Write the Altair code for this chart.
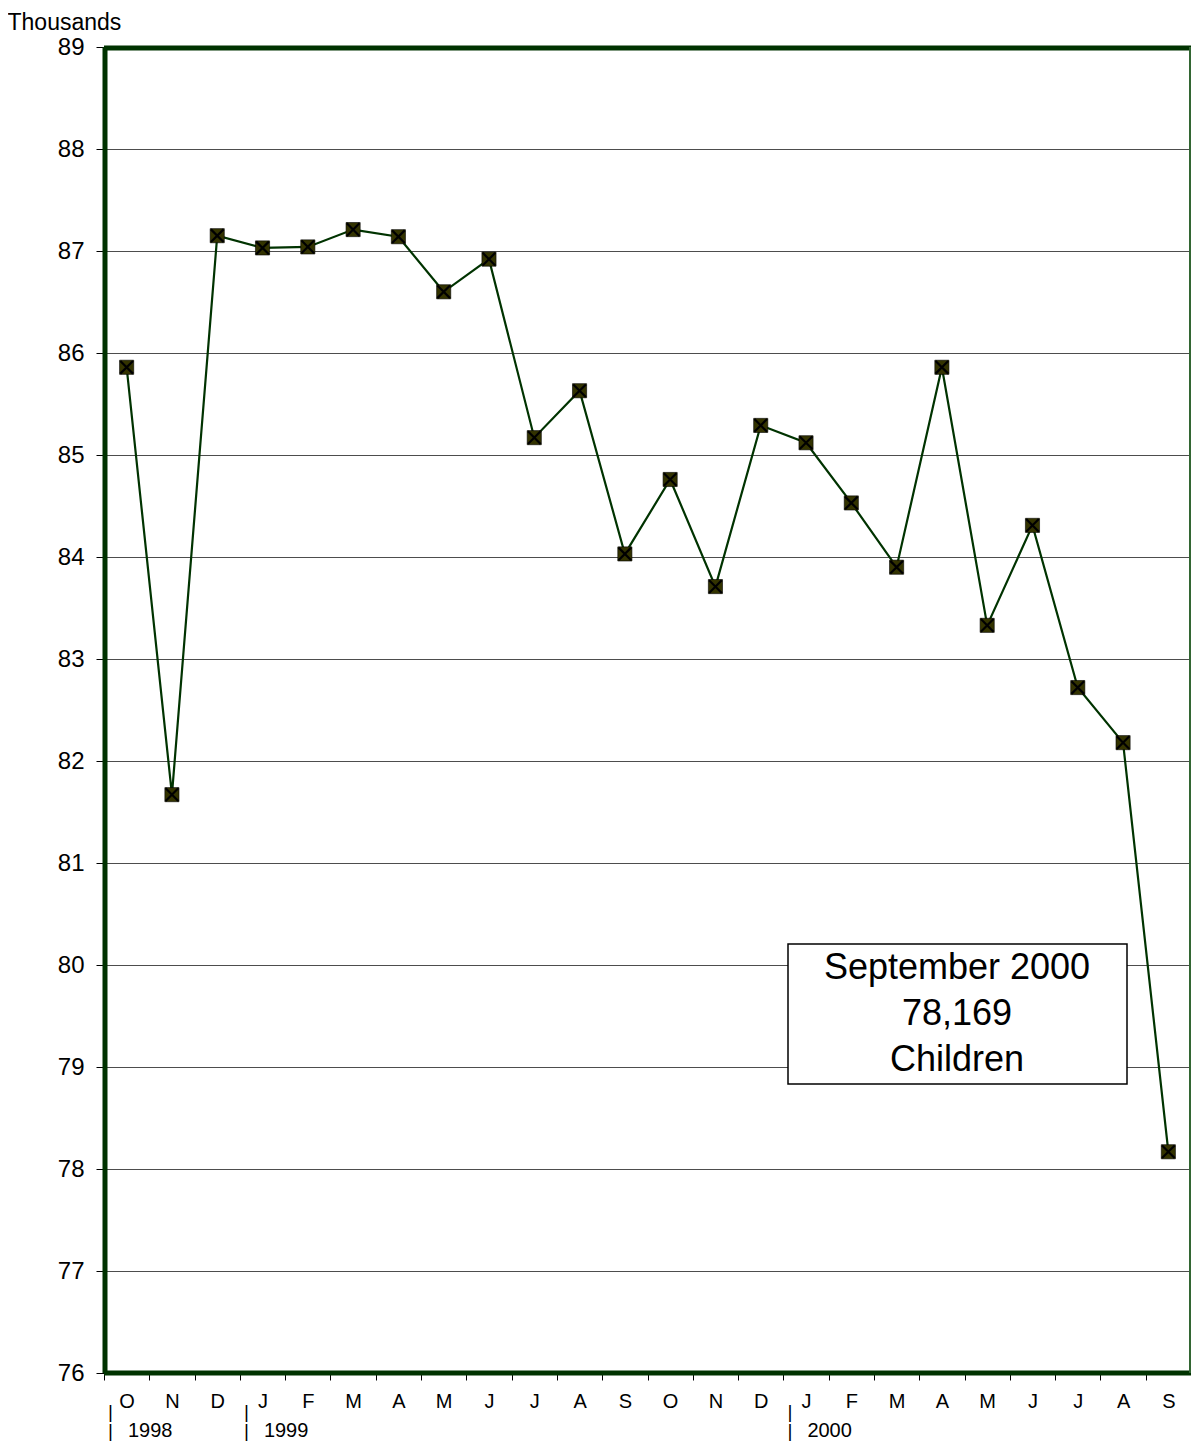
import altair as alt
import pandas as pd

months = ["O", "N", "D", "J", "F", "M", "A", "M", "J", "J", "A", "S",
          "O", "N", "D", "J", "F", "M", "A", "M", "J", "J", "A", "S"]
values = [85.86, 81.67, 87.15, 87.03, 87.04, 87.21, 87.14, 86.60, 86.92, 85.17, 85.63, 84.03,
          84.76, 83.71, 85.29, 85.12, 84.53, 83.90, 85.86, 83.33, 84.31, 82.72, 82.18, 78.169]
year_labels = ["1998", "1999", "2000"]
year_start = [0, 3, 15]
y_ticks = list(range(76, 90))
note_lines = ["September 2000", "78,169", "Children"]

W, H = 1087, 1326
FONT = "Liberation Sans"

df = pd.DataFrame({"idx": list(range(len(months))), "month": months, "value": values})
ydf = pd.DataFrame({"idx": year_start, "year": year_labels})
one = pd.DataFrame({"k": [0]})

label_expr = "[" + ",".join(f"'{m}'" for m in months) + "][datum.value]"

x_axis = alt.Axis(title=None, labelExpr=label_expr, labelAngle=0, tickBand="extent",
                  domain=False, tickSize=7, tickColor="black", tickWidth=1,
                  labelFont=FONT, labelFontSize=20, labelColor="black",
                  labelPadding=11, grid=False)
x_scale = alt.Scale(paddingInner=0, paddingOuter=0)


def make_x(band=None):
    if band is None:
        return alt.X("idx:O", scale=x_scale, axis=x_axis)
    return alt.X("idx:O", scale=x_scale, axis=x_axis, bandPosition=band)


y = alt.Y("value:Q",
          scale=alt.Scale(domain=[76, 89], nice=False, zero=False),
          axis=alt.Axis(values=y_ticks, title="Thousands", titleAngle=0, titleAlign="left",
                        titleX=-97, titleY=-18, titleBaseline="alphabetic",
                        titleFont=FONT, titleFontSize=23, titleFontWeight="normal",
                        titleColor="black",
                        labelFont=FONT, labelFontSize=24, labelColor="black",
                        tickSize=8, tickColor="black", labelPadding=12,
                        domain=False, grid=True, gridColor="#4d4d4d", gridWidth=1))

base = alt.Chart(df).encode(x=make_x(), y=y)
line = base.mark_line(color="#003300", strokeWidth=2.2)
squares = base.mark_point(shape="square", filled=True, size=200, fill="#333300",
                          stroke="black", strokeWidth=0.6, opacity=1)
crosses = base.mark_point(shape="M-1,-1L1,1M-1,1L1,-1", size=160, filled=False,
                          stroke="black", strokeWidth=2.2, opacity=1)

bar_top = alt.Chart(ydf).mark_text(text="|", align="left", baseline="alphabetic", dx=4,
                                   fontSize=19, font=FONT, color="black").encode(
    x=make_x(0), y=alt.value(H + 45))
bar_bottom = alt.Chart(ydf).mark_text(text="|", align="left", baseline="alphabetic", dx=4,
                                      fontSize=19, font=FONT, color="black").encode(
    x=make_x(0), y=alt.value(H + 64))
years = alt.Chart(ydf).mark_text(align="left", baseline="alphabetic", dx=24,
                                 fontSize=20, font=FONT, color="black").encode(
    x=make_x(0), y=alt.value(H + 64), text="year:N")

frame_l = alt.Chart(one).mark_rule(color="#003300", strokeWidth=5).encode(
    x=alt.value(1), y=alt.value(0), y2=alt.value(H))
frame_t = alt.Chart(one).mark_rule(color="#003300", strokeWidth=5).encode(
    x=alt.value(0), x2=alt.value(W), y=alt.value(1))
frame_b = alt.Chart(one).mark_rule(color="#003300", strokeWidth=5).encode(
    x=alt.value(0), x2=alt.value(W), y=alt.value(H))
frame_r = alt.Chart(one).mark_rule(color="#336633", strokeWidth=2).encode(
    x=alt.value(W - 1), y=alt.value(0), y2=alt.value(H))

box = alt.Chart(one).mark_rect(fill="white", stroke="black", strokeWidth=1.5).encode(
    x=alt.value(684), x2=alt.value(1023), y=alt.value(897), y2=alt.value(1037))
note = alt.Chart(one).mark_text(align="center", baseline="alphabetic", fontSize=36,
                                font=FONT, color="black", lineHeight=46).encode(
    x=alt.value(853), y=alt.value(932), text=alt.value(note_lines))

chart = alt.layer(
    line, squares, crosses, box, note,
    frame_l, frame_t, frame_b, frame_r,
    bar_top, bar_bottom, years,
).properties(
    width=W, height=H,
    autosize=alt.AutoSizeParams(type="none"),
    padding={"left": 96, "top": 39, "right": 0, "bottom": 69},
).configure_view(stroke=None).configure(background="white")

chart.save("out.html", embed_options={"renderer": "svg", "actions": False})
